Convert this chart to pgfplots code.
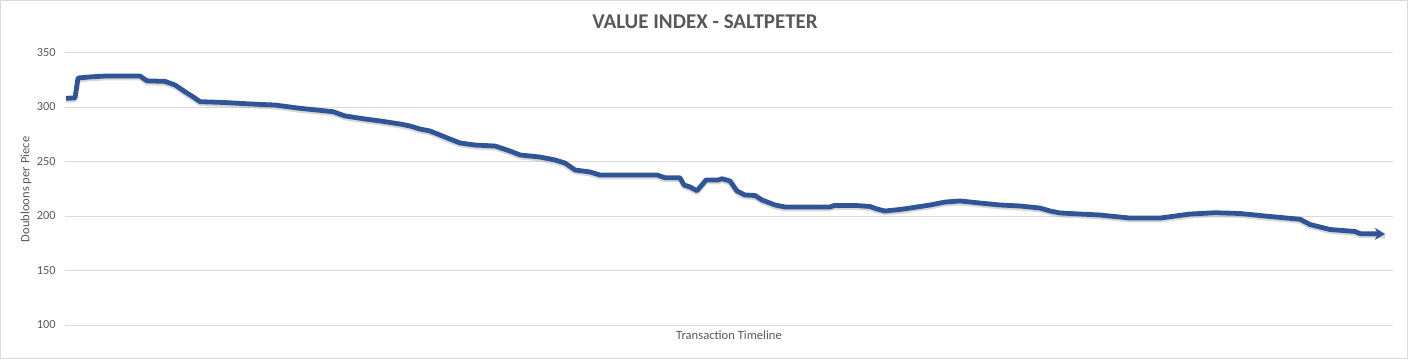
\documentclass[border=0pt]{standalone}
\usepackage{fontspec}
\setmainfont{Carlito}
\usepackage{pgfplots}
\usepackage{pgfplotstable}
\pgfplotsset{compat=1.18}
\usetikzlibrary{arrows.meta}
\definecolor{linecol}{RGB}{47,85,151}
\definecolor{gridcol}{RGB}{217,217,217}
\definecolor{txtcol}{RGB}{89,89,89}
\pgfplotstableread{
x v
66 308.0
75 308.3
78 326.6
90 327.6
105 328.4
140 328.4
147 324.0
165 323.5
175 320.2
185 314.0
193 309.4
200 304.9
225 304.1
250 302.8
275 301.8
300 298.8
333 295.7
345 291.8
365 289.0
380 287.2
400 284.4
410 282.6
420 279.8
430 278.0
440 274.3
450 270.6
460 267.0
475 265.1
495 264.2
510 259.6
520 256.0
540 254.1
555 251.4
565 248.6
575 242.2
590 240.4
600 237.6
657 237.6
665 235.1
680 235.0
684 228.4
690 226.6
697 223.2
706 233.0
718 233.0
722 234.2
730 232.1
737 222.9
745 219.3
755 218.8
762 214.7
775 210.1
785 208.3
830 208.3
834 209.6
857 209.6
870 208.7
877 206.4
885 204.6
900 206.0
910 207.3
930 210.1
945 212.8
960 213.8
980 211.9
1000 210.1
1020 209.2
1040 207.3
1050 204.6
1060 202.8
1080 201.8
1100 200.9
1130 198.1
1160 198.1
1190 201.8
1215 203.0
1240 202.3
1265 200.0
1300 197.0
1310 192.2
1330 187.6
1355 185.8
1360 183.8
1385 183.5
}\saltpeter
\begin{document}
\begin{tikzpicture}[x=1bp,y=1bp]
\draw[gridcol, line width=1bp] (0.5,0.5) rectangle (1407.5,358.5);
\begin{axis}[at={(65bp,34bp)}, anchor=south west, scale only axis,
  width=1328bp, height=272.5bp,
  xmin=65, xmax=1393, ymin=100, ymax=350,
  ytick={100,150,200,250,300,350}, xtick=\empty,
  axis line style={draw=none},
  ymajorgrids, grid style={gridcol, line width=0.9bp},
  major tick length=0pt,
  /pgf/number format/assume math mode=true,
  tick label style={font=\fontsize{12.3bp}{14bp}\selectfont, text=txtcol},
  yticklabel style={xshift=-6bp},
  clip=false]
\addplot[black!35, opacity=0.45, line width=4.8bp, line join=round, transform canvas={yshift=-2bp}] table[x=x,y=v] {\saltpeter};
\addplot[linecol, line width=4.8bp, line join=round, -{Stealth[length=10bp,width=12bp,inset=3bp]}] table[x=x,y=v] {\saltpeter};
\end{axis}
\node[font=\bfseries\fontsize{21bp}{23bp}\selectfont, text=txtcol] at (705,337) {VALUE INDEX - SALTPETER};
\node[font=\fontsize{12.6bp}{14bp}\selectfont, text=txtcol] at (729,24) {Transaction Timeline};
\node[font=\fontsize{12.6bp}{14bp}\selectfont, text=txtcol, rotate=90] at (26,169.5) {Doubloons per Piece};
\end{tikzpicture}
\end{document}
